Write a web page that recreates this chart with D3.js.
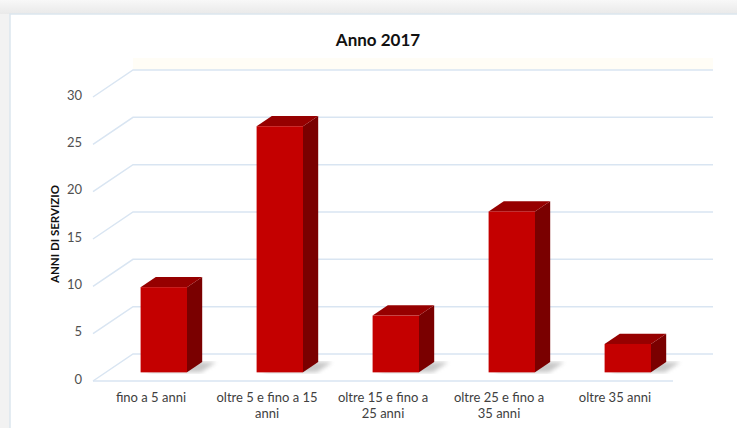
<!DOCTYPE html>
<html>
<head>
<meta charset="utf-8">
<script src="https://cdn.jsdelivr.net/npm/d3@7"></script>
<style>
  body { margin: 0; background: #f2f2f2; }
  svg { display: block; font-family: Lato, "Open Sans", sans-serif; }
</style>
</head>
<body>
<svg width="737" height="428"></svg>
<script>
var categories = ["fino a 5 anni", "oltre 5 e fino a 15 anni", "oltre 15 e fino a 25 anni",
                  "oltre 25 e fino a 35 anni", "oltre 35 anni"];
var labelLines = [["fino a 5 anni"], ["oltre 5 e fino a 15", "anni"], ["oltre 15 e fino a", "25 anni"],
                  ["oltre 25 e fino a", "35 anni"], ["oltre 35 anni"]];
var values = [9, 26, 6, 17, 3];
var yTicks = [0, 5, 10, 15, 20, 25, 30];

var svg = d3.select("svg");

// page background and chart panel
var defs = svg.append("defs");
var grad = defs.append("linearGradient").attr("id", "topband")
    .attr("x1", 0).attr("y1", 0).attr("x2", 0).attr("y2", 1);
grad.append("stop").attr("offset", 0).attr("stop-color", "#f8f8f8");
grad.append("stop").attr("offset", 1).attr("stop-color", "#e9e9e9");
defs.append("filter").attr("id", "blur")
    .append("feGaussianBlur").attr("stdDeviation", 2);

svg.append("rect").attr("width", 737).attr("height", 14).attr("fill", "url(#topband)");
svg.append("rect").attr("x", 10).attr("y", 14).attr("width", 740).attr("height", 420)
    .attr("fill", "#fff").attr("stroke", "#dce6ee").attr("stroke-width", 1.5);

// oblique projection: depth 1 = full floor depth
var depthX = 40, depthY = -27;
var x = d3.scaleBand().domain(categories).range([93, 673]);
var y = d3.scaleLinear().domain([0, 30]).range([381, 97]);
function px(xv, d) { return xv + d * depthX; }
function py(yv, d) { return yv + d * depthY; }

// faint back wall tint at top
svg.append("rect").attr("x", px(93, 1)).attr("y", py(y(30), 1) - 12)
    .attr("width", 580).attr("height", 12).attr("fill", "#fffdf6");

// gridlines (left wall diagonal + back wall)
var line = d3.line();
svg.append("g").selectAll("path")
    .data(yTicks)
    .enter().append("path")
        .attr("d", function(t) {
            return line([[93, y(t)], [px(93, 1), py(y(t), 1)], [px(673, 1), py(y(t), 1)]]);
        })
        .attr("fill", "none")
        .attr("stroke", "#d9e5f2")
        .attr("stroke-width", 1.5);

// floor front edge
svg.append("line")
    .attr("x1", 93).attr("x2", 673).attr("y1", y(0)).attr("y2", y(0))
    .attr("stroke", "#d9e5f2").attr("stroke-width", 1.5);

// y tick labels
svg.append("g").selectAll("text")
    .data(yTicks)
    .enter().append("text")
        .attr("x", 82)
        .attr("y", function(t) { return y(t) - 2; })
        .attr("dy", "0.35em")
        .attr("text-anchor", "end")
        .attr("font-size", 13)
        .attr("fill", "#505050")
        .text(function(t) { return t; });

// bars
var d0 = 0.32, d1 = 0.70, barFrac = 0.4;
var bars = svg.append("g").selectAll("g")
    .data(values)
    .enter().append("g");

function barX0(i) {
    var bw = x.bandwidth();
    return x(categories[i]) + (bw - bw * barFrac) / 2;
}
function barX1(i) { return barX0(i) + x.bandwidth() * barFrac; }

// floor shadow
bars.append("polygon")
    .attr("points", function(v, i) {
        var a = barX0(i) + 6, b = barX1(i) + 14;
        return [[px(a, d0), py(y(0), d0)], [px(b, d0), py(y(0), d0)],
                [px(b, d1), py(y(0), d1)], [px(a, d1), py(y(0), d1)]].join(" ");
    })
    .attr("fill", "#9a9a9a")
    .attr("opacity", 0.55)
    .attr("filter", "url(#blur)");

// side face
bars.append("polygon")
    .attr("points", function(v, i) {
        var r = barX1(i);
        return [[px(r, d0), py(y(0), d0)], [px(r, d1), py(y(0), d1)],
                [px(r, d1), py(y(v), d1)], [px(r, d0), py(y(v), d0)]].join(" ");
    })
    .attr("fill", "#7a0000");

// top face
bars.append("polygon")
    .attr("points", function(v, i) {
        var l = barX0(i), r = barX1(i);
        return [[px(l, d0), py(y(v), d0)], [px(r, d0), py(y(v), d0)],
                [px(r, d1), py(y(v), d1)], [px(l, d1), py(y(v), d1)]].join(" ");
    })
    .attr("fill", "#960000");

// front face
bars.append("rect")
    .attr("x", function(v, i) { return px(barX0(i), d0); })
    .attr("y", function(v) { return py(y(v), d0); })
    .attr("width", x.bandwidth() * barFrac)
    .attr("height", function(v) { return y(0) - y(v); })
    .attr("fill", "#c40000");

// category labels
var xl = svg.append("g").selectAll("text")
    .data(labelLines)
    .enter().append("text")
        .attr("x", function(d, i) { return x(categories[i]) + x.bandwidth() / 2; })
        .attr("y", 402)
        .attr("text-anchor", "middle")
        .attr("font-size", 13)
        .attr("fill", "#404040");
xl.selectAll("tspan")
    .data(function(d) { return d; })
    .enter().append("tspan")
        .attr("x", function() { return d3.select(this.parentNode).attr("x"); })
        .attr("dy", function(d, i) { return i ? 16 : 0; })
        .text(function(d) { return d; });

// titles
svg.append("text")
    .attr("x", 378).attr("y", 46)
    .attr("text-anchor", "middle")
    .attr("font-size", 17)
    .attr("font-weight", "bold")
    .attr("fill", "#111")
    .text("Anno 2017");

svg.append("text")
    .attr("transform", "translate(59,234) rotate(-90)")
    .attr("text-anchor", "middle")
    .attr("font-size", 11.5)
    .attr("font-weight", "bold")
    .attr("fill", "#111")
    .text("ANNI DI SERVIZIO");
</script>
</body>
</html>
